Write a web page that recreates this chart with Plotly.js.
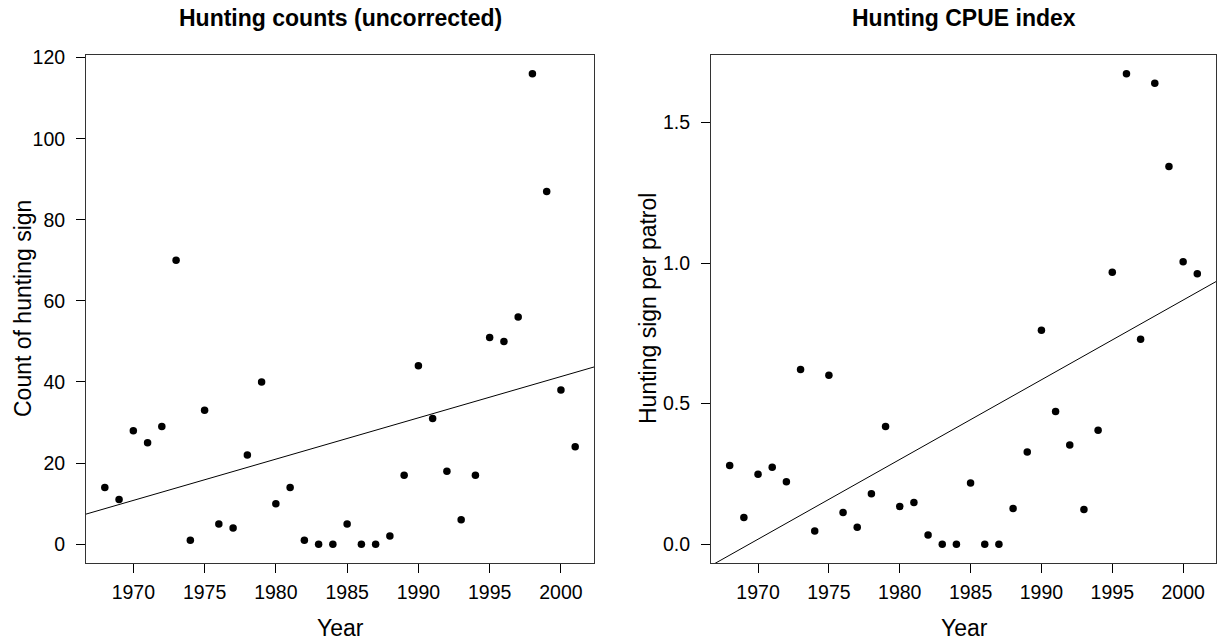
<!DOCTYPE html>
<html>
<head>
<meta charset="utf-8">
<script src="https://cdn.plot.ly/plotly-3.0.1.min.js"></script>
<style>html,body{margin:0;padding:0;background:#fff;}#chart{width:1217px;height:642px;}</style>
</head>
<body>
<div id="chart"></div>
<script>
var years = [1968,1969,1970,1971,1972,1973,1974,1975,1976,1977,1978,1979,1980,1981,1982,1983,1984,1985,1986,1987,1988,1989,1990,1991,1992,1993,1994,1995,1996,1997,1998,1999,2000,2001];
var counts = [14,11,28,25,29,70,1,33,5,4,22,40,10,14,1,0,0,5,0,0,2,17,44,31,18,6,17,51,50,56,116,87,38,24];
var cpue = [0.28,0.095,0.249,0.274,0.222,0.621,0.047,0.601,0.113,0.06,0.179,0.419,0.134,0.148,0.033,0,0,0.218,0,0,0.127,0.328,0.761,0.472,0.353,0.123,0.405,0.967,1.673,0.729,1.639,1.343,1.005,0.962];
var xTicks = [1970,1975,1980,1985,1990,1995,2000];
var leftYTicks = [0,20,40,60,80,100,120];
var rightYTicks = [0,0.5,1.0,1.5];

function rRange(arr){
  var mn = Math.min.apply(null, arr), mx = Math.max.apply(null, arr);
  var d = (mx - mn) * 0.04;
  return [mn - d, mx + d];
}
function olsLine(x, y, xr){
  var n = x.length, mx = 0, my = 0;
  for (var i=0;i<n;i++){mx+=x[i];my+=y[i];}
  mx/=n; my/=n;
  var sxy=0,sxx=0;
  for (var i=0;i<n;i++){sxy+=(x[i]-mx)*(y[i]-my);sxx+=(x[i]-mx)*(x[i]-mx);}
  var b = sxy/sxx, a = my - b*mx;
  return {x: xr, y: xr.map(function(v){return a + b*v;})};
}

var xr = rRange(years);
var yr1 = rRange(counts);
var yr2 = rRange(cpue);
var fit1 = olsLine(years, counts, xr);
var fit2 = olsLine(years, cpue, xr);

var fontFam = 'Liberation Sans, Arial, sans-serif';
var mk = {color:'#000', size:7.5};

var traces = [
  {x: years, y: counts, mode:'markers', type:'scatter', marker: mk, xaxis:'x', yaxis:'y'},
  {x: fit1.x, y: fit1.y, mode:'lines', type:'scatter', line:{color:'#000', width:1}, xaxis:'x', yaxis:'y'},
  {x: years, y: cpue, mode:'markers', type:'scatter', marker: mk, xaxis:'x2', yaxis:'y2'},
  {x: fit2.x, y: fit2.y, mode:'lines', type:'scatter', line:{color:'#000', width:1}, xaxis:'x2', yaxis:'y2'}
];

function xax(dom, anchor){
  return {domain: dom, anchor: anchor, range: xr, tickvals: xTicks, ticks:'outside', ticklen:9, tickcolor:'#000', tickwidth:1,
    ticklabelstandoff: 3,
    showline:true, mirror:true, linecolor:'#333', linewidth:1, showgrid:false, zeroline:false,
    tickfont:{family:fontFam, size:19.5, color:'#000'}, fixedrange:true};
}
function yax(dom, anchor, range, tv, fmt){
  return {domain: dom, anchor: anchor, range: range, tickvals: tv, tickformat: fmt, ticks:'outside', ticklen:9, tickcolor:'#000', tickwidth:1,
    ticklabelstandoff: 7,
    showline:true, mirror:true, linecolor:'#333', linewidth:1, showgrid:false, zeroline:false,
    tickfont:{family:fontFam, size:19.5, color:'#000'}, fixedrange:true};
}

var W = 1217;
var layout = {
  width: 1217, height: 642,
  margin: {l:0, r:0, t:55, b:79},
  paper_bgcolor:'#fff', plot_bgcolor:'#fff',
  showlegend:false,
  font:{family:fontFam, color:'#000'},
  xaxis: xax([86/W, 594/W], 'y'),
  yaxis: yax([0,1], 'x', yr1, leftYTicks, 'd'),
  xaxis2: xax([711/W, 1216/W], 'y2'),
  yaxis2: yax([0,1], 'x2', yr2, rightYTicks, '.1f'),
  annotations: [
    {text:'<b>Hunting counts (uncorrected)</b>', xref:'paper', yref:'paper', x:340/W, y:1, yshift:37, showarrow:false, xanchor:'center', yanchor:'middle', font:{size:23, family:fontFam, color:'#000'}},
    {text:'<b>Hunting CPUE index</b>', xref:'paper', yref:'paper', x:964/W, y:1, yshift:37, showarrow:false, xanchor:'center', yanchor:'middle', font:{size:23, family:fontFam, color:'#000'}},
    {text:'Year', xref:'paper', yref:'paper', x:340/W, y:0, yshift:-65, showarrow:false, xanchor:'center', yanchor:'middle', font:{size:23, family:fontFam, color:'#000'}},
    {text:'Year', xref:'paper', yref:'paper', x:964/W, y:0, yshift:-65, showarrow:false, xanchor:'center', yanchor:'middle', font:{size:23, family:fontFam, color:'#000'}},
    {text:'Count of hunting sign', xref:'paper', yref:'paper', x:23/W, y:0.5, textangle:-90, showarrow:false, xanchor:'center', yanchor:'middle', font:{size:23, family:fontFam, color:'#000'}},
    {text:'Hunting sign per patrol', xref:'paper', yref:'paper', x:648/W, y:0.5, textangle:-90, showarrow:false, xanchor:'center', yanchor:'middle', font:{size:23, family:fontFam, color:'#000'}}
  ]
};

Plotly.newPlot('chart', traces, layout, {displayModeBar:false, staticPlot:true});
</script>
</body>
</html>
